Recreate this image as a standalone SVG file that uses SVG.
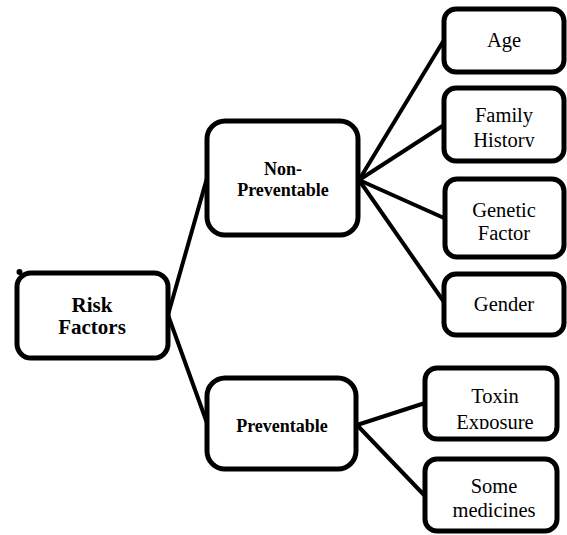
<svg xmlns="http://www.w3.org/2000/svg" width="567" height="535" viewBox="0 0 567 535">
<style>
.box{fill:#fff;stroke:#000;stroke-width:5}
.conn line{stroke:#000;stroke-width:4;stroke-linecap:round}
text{font-family:'Liberation Serif','DejaVu Serif',serif;fill:#000;text-anchor:middle}
.b{font-weight:bold;font-size:18px}
.bb{font-weight:bold;font-size:21px}
.r{font-size:20.5px}
</style>
<defs>
<clipPath id="clipFam"><rect x="444" y="88" width="120" height="59"/></clipPath>
<clipPath id="clipTox"><rect x="425" y="368" width="132" height="61"/></clipPath>
</defs>
<rect width="567" height="535" fill="#fff"/>
<g id="connectors" class="conn">
<line x1="168" y1="315" x2="207" y2="178"/>
<line x1="168" y1="315" x2="207" y2="423"/>
<line x1="359" y1="180" x2="444" y2="40"/>
<line x1="359" y1="180" x2="444" y2="125"/>
<line x1="359" y1="180" x2="444" y2="218"/>
<line x1="359" y1="180" x2="444" y2="302"/>
<line x1="357" y1="425" x2="425" y2="403"/>
<line x1="357" y1="425" x2="425" y2="496"/>
</g>
<g id="risk-factors">
<rect class="box" x="17" y="273" width="151" height="85" rx="14"/>
<circle cx="19.5" cy="272" r="3" fill="#000"/>
<text class="bb" x="92" y="312" font-family="Liberation Serif, serif">Risk</text>
<text class="bb" x="92" y="334" font-family="Liberation Serif, serif">Factors</text>
</g>
<g id="non-preventable">
<rect class="box" x="207" y="121" width="151" height="114" rx="18"/>
<text class="b" x="283" y="175" font-family="Liberation Serif, serif">Non-</text>
<text class="b" x="283" y="196" font-family="Liberation Serif, serif">Preventable</text>
</g>
<g id="preventable">
<rect class="box" x="207" y="378" width="149" height="91" rx="18"/>
<text class="b" x="282" y="432" font-family="Liberation Serif, serif">Preventable</text>
</g>
<g id="age">
<rect class="box" x="444" y="9" width="120" height="63" rx="12"/>
<text class="r" x="504" y="47" font-family="Liberation Serif, serif">Age</text>
</g>
<g id="family-history">
<rect class="box" x="444" y="88" width="120" height="73" rx="12"/>
<text class="r" x="504" y="122" font-family="Liberation Serif, serif">Family</text>
<text class="r" x="504" y="147" clip-path="url(#clipFam)" font-family="Liberation Serif, serif">History</text>
</g>
<g id="genetic-factor">
<rect class="box" x="445" y="179" width="119" height="78" rx="12"/>
<text class="r" x="504" y="217" font-family="Liberation Serif, serif">Genetic</text>
<text class="r" x="504" y="240" font-family="Liberation Serif, serif">Factor</text>
</g>
<g id="gender">
<rect class="box" x="444" y="274" width="120" height="61" rx="12"/>
<text class="r" x="504" y="311" font-family="Liberation Serif, serif">Gender</text>
</g>
<g id="toxin-exposure">
<rect class="box" x="425" y="368" width="132" height="71" rx="12"/>
<text class="r" x="495" y="403" font-family="Liberation Serif, serif">Toxin</text>
<text class="r" x="495" y="429" clip-path="url(#clipTox)" font-family="Liberation Serif, serif">Exposure</text>
</g>
<g id="some-medicines">
<rect class="box" x="425" y="459" width="132" height="72" rx="12"/>
<text class="r" x="494" y="493" font-family="Liberation Serif, serif">Some</text>
<text class="r" x="494" y="517" font-family="Liberation Serif, serif">medicines</text>
</g>
</svg>
